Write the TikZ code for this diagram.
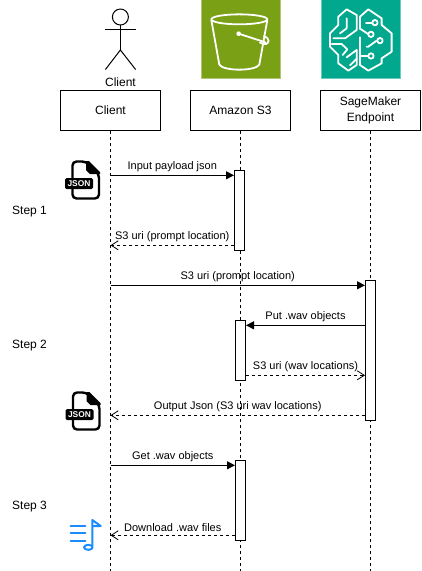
\documentclass[tikz,border=0pt]{standalone}
\usepackage{fontspec}
\setmainfont{Liberation Sans}
\usetikzlibrary{arrows.meta}
\definecolor{s3green}{HTML}{7AA116}
\definecolor{smteal}{HTML}{01A88D}
\definecolor{noteblue}{HTML}{1A8CFF}
\tikzset{
	lifebox/.style={draw, fill=white, line width=1pt, minimum width=100pt, minimum height=40pt, inner sep=1pt, align=center, font=\fontsize{12}{15.5}\selectfont},
	actbox/.style={draw, fill=white, line width=1pt, minimum width=10pt, inner sep=0pt},
	lifeline/.style={line width=1pt, dash pattern=on 3pt off 3pt},
	call/.style={line width=1pt, -{Triangle[length=8pt,width=8pt]}},
	reply/.style={line width=1pt, dash pattern=on 3pt off 3pt, -{Straight Barb[length=7pt,width=9pt,line width=0.8pt]}},
	msg/.style={font=\fontsize{11}{12}\selectfont, inner sep=3pt, above},
	steplabel/.style={font=\fontsize{12}{14}\selectfont, anchor=west, inner sep=0pt},
	iconline/.style={white, line width=1.8pt, line join=round, line cap=round},
	noteline/.style={noteblue, line width=2pt, line cap=round, line join=round},
	jsonpic/.pic={
		\draw[line width=2.4pt, fill=white, rounded corners=4pt] (7.5,1.5) -- (21,1.5) -- (34,14) -- (34,38.5) -- (7.5,38.5) -- cycle;
		\fill (21,1) -- (24,1) -- (35,12) -- (35,14) -- (25,14) -- (21,10) -- cycle;
		\fill[rounded corners=1.5pt] (0,18) rectangle (28,29);
		\node[white, font=\fontsize{8.4}{9}\bfseries\selectfont, inner sep=0pt] at (14,23.6) {JSON};
	}
}
\begin{document}
\begin{tikzpicture}[x=1pt, y=-1pt]
	\useasboundingbox (0,0) rectangle (421,571);
	\draw[line width=1pt] (120.4,17) circle (8);
	\draw[line width=1pt] (105.4,29.3) -- (135.6,29.3);
	\draw[line width=1pt] (120.4,25) -- (120.4,50);
	\draw[line width=1pt] (105.4,69.5) -- (120.4,50) -- (135.6,69.5);
	\node[font=\fontsize{12}{14}\selectfont, inner sep=0pt] (actorname) at (120.5,82.6) {Client};
	\fill[s3green] (201,-1) rectangle (280,78.7);
	\draw[s3green!60!white, line width=0.7pt] (201,-1) rectangle (280,78.7);
	\begin{scope}[shift={(190,0)}, x=0.3333pt, y=-0.3333pt]
		\draw[iconline] (148,58) ellipse (84 and 15);
		\draw[iconline] (64,60) -- (88,194) .. controls (100,214) and (196,214) .. (208,194) -- (232,60);
		\draw[iconline] (146,101) -- (226,127);
		\draw[iconline] (222,108) .. controls (240,114) and (242,134) .. (220,132) .. controls (214,131) and (212,130) .. (210,128);
		\fill[white] (146,101) circle (7);
	\end{scope}
	\fill[smteal] (321,-1) rectangle (400,78.7);
	\draw[smteal!60!white, line width=0.7pt] (321,-1) rectangle (400,78.7);
	\begin{scope}[shift={(190,0)}, x=0.3333pt, y=-0.3333pt]
		\draw[iconline] (510,86) -- (510,50) -- (535,28) -- (575,55) -- (575,75) -- (605,100) -- (605,155) -- (575,175) -- (575,190) -- (535,212) -- (510,195) -- (510,112);
		\draw[iconline] (510,86) -- (536,103);
		\draw[iconline] (528,68) -- (548,68);
		\draw[iconline] (560,122) -- (535,140) -- (530,140);
		\draw[iconline] (512,168) -- (536,168);
		\draw[iconline] (500,150) -- (500,195) -- (475,212) -- (445,190) -- (445,165) -- (420,140) -- (420,100) -- (445,75) -- (445,50) -- (470,28) -- (500,45) -- (500,90) -- (465,115) -- (430,115);
		\draw[iconline] (470,55) -- (470,85) -- (450,100);
		\draw[iconline] (425,132) -- (455,132) -- (472,148) -- (458,165);
		\draw[iconline] (480,196) -- (500,176);
		\draw[iconline] (500,150) -- (470,172);
		\foreach \dotx/\doty in {555/68, 543/103, 570/122, 543/168}
			\draw[iconline, fill=smteal] (\dotx,\doty) circle (8);
	\end{scope}
	\node[lifebox] (client) at (110.5,110.3) {Client};
	\node[lifebox] (amazon) at (240.5,110.3) {Amazon S3};
	\node[lifebox] (sagemaker) at (370.5,110.3) {SageMaker\\Endpoint};
	\coordinate (clientend) at (110.5,571);
	\coordinate (amazonend) at (240.5,571);
	\coordinate (sagemakerend) at (370.5,571);
	\draw[lifeline] (client) -- (clientend);
	\draw[lifeline] (amazon) -- (amazonend);
	\draw[lifeline] (sagemaker) -- (sagemakerend);
	\node[actbox, minimum height=80pt] (putact) at (239.5,210.3) {};
	\node[actbox, minimum height=140pt] (endact) at (370.5,350.3) {};
	\node[actbox, minimum height=60pt] (wavact) at (240.5,350.3) {};
	\node[actbox, minimum height=80pt] (getact) at (240.5,500.3) {};
	\coordinate (inputstart) at (110.5,175.3);
	\coordinate (urireply) at (110.5,245.3);
	\coordinate (uristart) at (110.5,285.3);
	\coordinate (outputreply) at (110.5,415.3);
	\coordinate (getstart) at (110.5,465.3);
	\coordinate (downreply) at (110.5,535.3);
	\coordinate (putlevel) at (300,325.3);
	\coordinate (wavlevel) at (300,375.3);
	\draw[call] (inputstart) -- (putact.west |- inputstart) node [msg, midway] {Input payload json};
	\draw[reply] (putact.west |- urireply) -- (urireply) node [msg, midway] {S3 uri (prompt location)};
	\draw[call] (uristart) -- (endact.west |- uristart) node [msg, midway] {S3 uri (prompt location)};
	\draw[call] (endact.west |- putlevel) -- (wavact.east |- putlevel) node [msg, midway] {Put .wav objects};
	\draw[reply] (wavact.east |- wavlevel) -- (endact.west |- wavlevel) node [msg, midway] {S3 uri (wav locations)};
	\draw[reply] (endact.west |- outputreply) -- (outputreply) node [msg, midway] {Output Json (S3 uri wav locations)};
	\draw[call] (getstart) -- (getact.west |- getstart) node [msg, midway] {Get .wav objects};
	\draw[reply] (getact.west |- downreply) -- (downreply) node [msg, midway] {Download .wav files};
	\node[steplabel] (stepone) at (12,212) {Step 1};
	\node[steplabel] (steptwo) at (12,346) {Step 2};
	\node[steplabel] (stepthree) at (12,507) {Step 3};
	\pic at (65,160) {jsonpic};
	\pic at (65.5,391) {jsonpic};
	\begin{scope}[shift={(50,510)}, x=0.3333pt, y=-0.3333pt]
		\draw[noteline] (62,47) -- (106,47);
		\draw[noteline] (62,70) -- (106,70);
		\draw[noteline] (62,93) -- (106,93);
		\draw[noteline] (127,108) -- (127,30) -- (152,48) -- (127,48);
		\draw[noteline] (115,112) ellipse (13 and 7.5);
	\end{scope}
\end{tikzpicture}
\end{document}
